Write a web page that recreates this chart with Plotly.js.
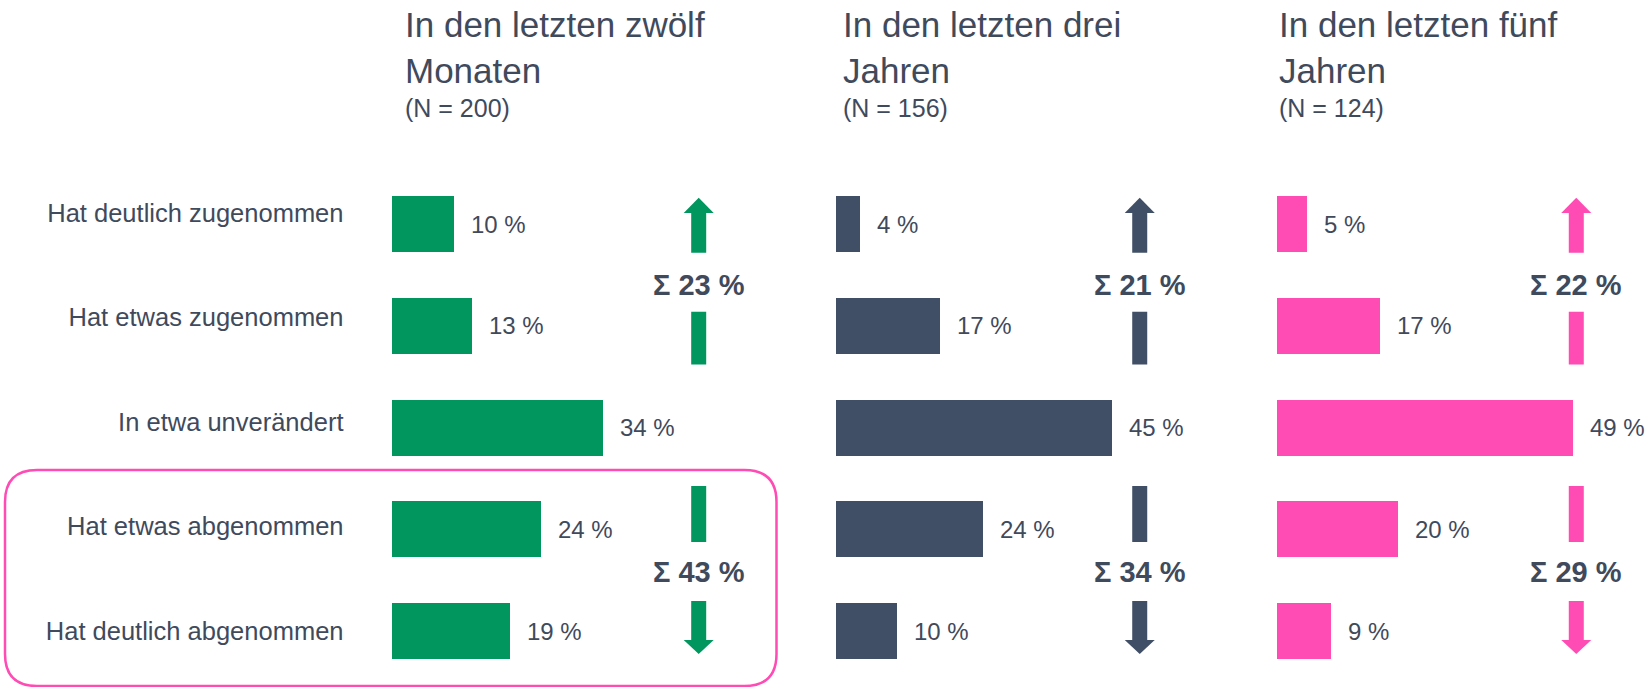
<!DOCTYPE html>
<html><head><meta charset="utf-8">
<script src="https://cdn.plot.ly/plotly-3.0.1.min.js"></script>
<style>html,body{margin:0;padding:0;background:#fff}#chart{width:1647px;height:687px}</style>
</head><body><div id="chart"></div>
<script>
// ---------- data ----------
const categories = ["Hat deutlich zugenommen", "Hat etwas zugenommen", "In etwa unverändert", "Hat etwas abgenommen", "Hat deutlich abgenommen"];
const panelTitles = ["In den letzten zwölf<br>Monaten", "In den letzten drei<br>Jahren", "In den letzten fünf<br>Jahren"];
const panelN = ["(N = 200)", "(N = 156)", "(N = 124)"];
const values12m = [10, 13, 34, 24, 19];
const values3y = [4, 17, 45, 24, 10];
const values5y = [5, 17, 49, 20, 9];
const seriesColors = ["#00965E", "#404F66", "#FF4BB4"];

// ---------- layout geometry ----------
const W = 1647, H = 687;
const TXT = "#3F4A5C";
const FONT = "Liberation Sans, Arial, sans-serif";
const XMAX = 60;
const panels = [
  {values: values12m, x0: 391.8, scale: 6.2, titleShift: 11},
  {values: values3y, x0: 835.8, scale: 6.14, titleShift: 5},
  {values: values5y, x0: 1276.8, scale: 6.05, titleShift: 0}
];
const rowIdx = categories.map((c, i) => i);
const ROW0 = 224.3, PITCH = 101.675;      // bar rows
const LAB0 = 213, LPITCH = 104.5;         // category label rows
const yRange = [(H - ROW0) / PITCH, -ROW0 / PITCH];
const y4Range = [(H - LAB0) / LPITCH, -LAB0 / LPITCH];
const ARROW_X = 49.5;
const UP = {tip: -0.26, base: -0.11, shaftEnd: 0.28, gap2: 0.86, end: 1.38, label: 0.6};
const DOWN = {start: 2.574, shaftEnd: 3.124, gap2: 3.705, base: 4.089, tip: 4.227, label: 3.42};

const traces = [];
const shapes = [];
const annotations = [];

panels.forEach((p, i) => {
  const xid = i === 0 ? "x" : "x" + (i + 1);
  const color = seriesColors[i];
  traces.push({
    type: "bar", orientation: "h", x: p.values, y: rowIdx,
    xaxis: xid, yaxis: "y", width: 0.55,
    marker: {color: color, line: {width: 0}},
    hovertemplate: "%{x} %<extra></extra>", showlegend: false
  });
  // value labels
  p.values.forEach((v, k) => {
    annotations.push({
      xref: xid, yref: "y", x: v, y: rowIdx[k], xanchor: "left", yanchor: "middle",
      xshift: 15, showarrow: false, text: v + " %",
      font: {family: FONT, size: 24, color: TXT}
    });
  });
  // sums
  const up = p.values[0] + p.values[1];
  const down = p.values[3] + p.values[4];
  [[up, UP.label], [down, DOWN.label]].forEach(([s, yy]) => {
    annotations.push({
      xref: xid, yref: "y", x: ARROW_X, y: yy, xanchor: "center", yanchor: "middle",
      showarrow: false, text: "Σ " + s + " %",
      font: {family: FONT, size: 29, color: TXT, weight: "bold"}
    });
  });
  // arrows
  const hw = 7.5 / p.scale, hh = 15 / p.scale;
  const rect = (y0, y1) => ({type: "rect", xref: xid, yref: "y", x0: ARROW_X - hw, x1: ARROW_X + hw, y0: y0, y1: y1, fillcolor: color, line: {width: 0}, layer: "above"});
  shapes.push(rect(UP.base, UP.shaftEnd));
  shapes.push(rect(UP.gap2, UP.end));
  shapes.push({type: "path", xref: xid, yref: "y", fillcolor: color, line: {width: 0},
    path: `M ${ARROW_X - hh},${UP.base} L ${ARROW_X},${UP.tip} L ${ARROW_X + hh},${UP.base} Z`});
  shapes.push(rect(DOWN.start, DOWN.shaftEnd));
  shapes.push(rect(DOWN.gap2, DOWN.base));
  shapes.push({type: "path", xref: xid, yref: "y", fillcolor: color, line: {width: 0},
    path: `M ${ARROW_X - hh},${DOWN.base} L ${ARROW_X},${DOWN.tip} L ${ARROW_X + hh},${DOWN.base} Z`});
  // titles
  annotations.push({
    xref: xid + " domain", yref: "paper", x: 0, y: 1, xanchor: "left", yanchor: "top",
    xshift: p.titleShift, yshift: -3, showarrow: false, align: "left", text: panelTitles[i],
    font: {family: FONT, size: 35, color: TXT}
  });
  annotations.push({
    xref: xid + " domain", yref: "paper", x: 0, y: 1 - 124 / H, xanchor: "left", yanchor: "bottom",
    xshift: p.titleShift, showarrow: false, align: "left", text: panelN[i],
    font: {family: FONT, size: 25, color: TXT}
  });
});

// invisible trace carrying category labels
traces.push({
  type: "scatter", mode: "markers", x: rowIdx.map(() => 0), y: rowIdx,
  xaxis: "x", yaxis: "y4", marker: {opacity: 0}, hoverinfo: "skip", showlegend: false
});

// highlight frame around decreases
const fx = v => v / W, fy = v => 1 - v / H;
const L = 5, R = 776.5, T = 470, B = 686, r = 32;
shapes.push({
  type: "path", xref: "paper", yref: "paper", line: {color: "#FF4BB4", width: 2.5},
  path: `M ${fx(L + r)},${fy(T)} L ${fx(R - r)},${fy(T)} Q ${fx(R)},${fy(T)} ${fx(R)},${fy(T + r)} ` +
        `L ${fx(R)},${fy(B - r)} Q ${fx(R)},${fy(B)} ${fx(R - r)},${fy(B)} ` +
        `L ${fx(L + r)},${fy(B)} Q ${fx(L)},${fy(B)} ${fx(L)},${fy(B - r)} ` +
        `L ${fx(L)},${fy(T + r)} Q ${fx(L)},${fy(T)} ${fx(L + r)},${fy(T)} Z`
});

const layout = {
  width: W, height: H, margin: {l: 0, r: 0, t: 0, b: 0},
  paper_bgcolor: "#ffffff", plot_bgcolor: "rgba(0,0,0,0)",
  showlegend: false, bargap: 0,
  font: {family: FONT, color: TXT},
  yaxis: {domain: [0, 1], range: yRange, visible: false, fixedrange: true},
  yaxis4: {overlaying: "y", anchor: "free", position: 343.5 / W, side: "left", range: y4Range,
    tickmode: "array", tickvals: rowIdx, ticktext: categories, ticks: "", showgrid: false,
    zeroline: false, showline: false, fixedrange: true,
    tickfont: {family: FONT, size: 25.5, color: TXT}},
  shapes: shapes, annotations: annotations
};
panels.forEach((p, i) => {
  const key = i === 0 ? "xaxis" : "xaxis" + (i + 1);
  layout[key] = {domain: [p.x0 / W, (p.x0 + XMAX * p.scale) / W], range: [0, XMAX], anchor: "y", visible: false, fixedrange: true};
});

Plotly.newPlot("chart", traces, layout, {displayModeBar: false, staticPlot: true});
</script>
</body></html>
